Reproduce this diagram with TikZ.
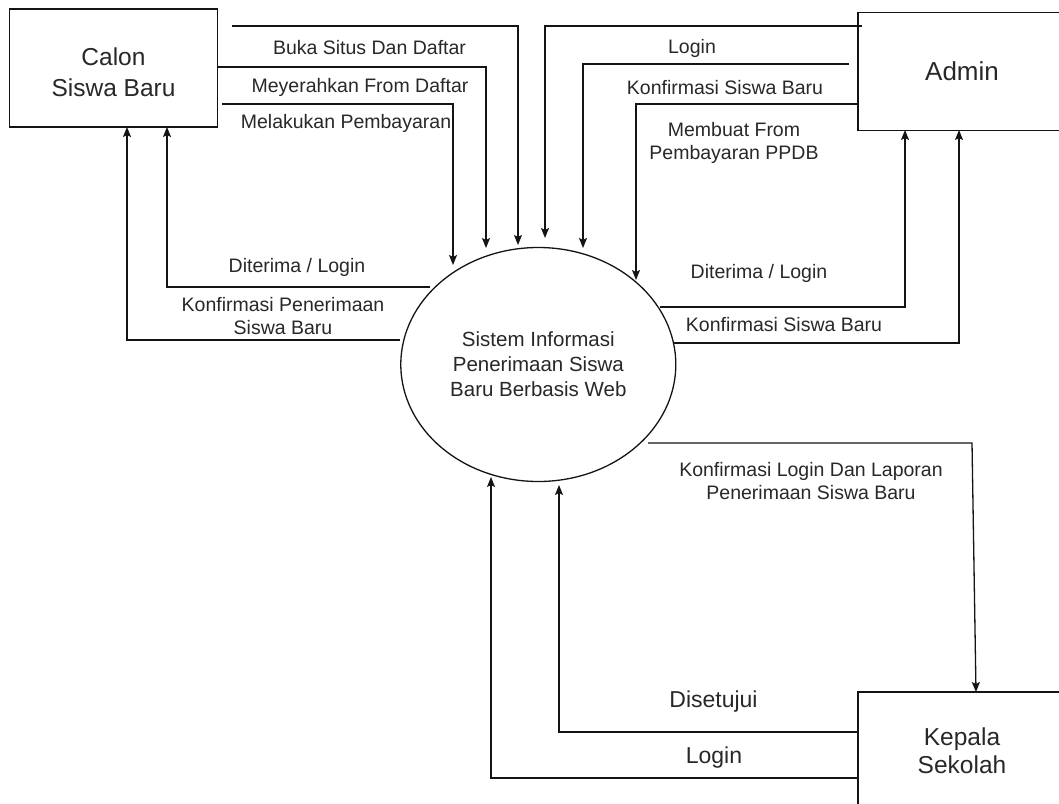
\documentclass[tikz,border=0pt]{standalone}
\usepackage{fontspec}
\setmainfont{Liberation Sans}
\usetikzlibrary{arrows.meta,shapes.geometric}
\definecolor{linec}{RGB}{20,20,20}
\definecolor{textc}{RGB}{40,40,40}
\newcommand{\lblfont}{\fontsize{19.5}{23}\selectfont}
\newcommand{\entfont}{\fontsize{24.5}{31}\selectfont}
\tikzset{
  ent/.style={draw=linec, line width=1.3pt, minimum width=208pt, minimum height=118pt,
              inner sep=0pt, text=textc, align=center, font=\entfont},
  proc/.style={draw=linec, ellipse, line width=1.3pt, minimum width=275pt, minimum height=234pt,
              inner sep=0pt, text=textc, align=center, font=\fontsize{20.5}{25}\selectfont},
  flow/.style={draw=linec, line width=1.3pt, -{Stealth[length=10pt,width=8pt,inset=2pt]}},
  lbl/.style={text=textc, font=\lblfont, align=center, inner sep=0pt},
  biglbl/.style={text=textc, font=\fontsize{23}{27}\selectfont, align=center, inner sep=0pt},
}
\begin{document}
\begin{tikzpicture}[x=1pt,y=-1pt]
\useasboundingbox (0,0) rectangle (1059,803);
\clip (0,0) rectangle (1059,803);
\fill[white] (0,0) rectangle (1059,803);

% nodes
\node[ent, text height=58pt] (calon) at (113.5,68) {Calon\\Siswa Baru};
\node[ent, font=\fontsize{26}{30}\selectfont] (admin) at (962,71.5) {Admin};
\node[ent, font=\fontsize{24.5}{28}\selectfont] (kepala) at (962,751) {Kepala\\Sekolah};
\node[proc] (sis) at (538.3,364.5) {Sistem Informasi\\Penerimaan Siswa\\Baru Berbasis Web};

% connector end points
\coordinate (c1s) at (232,26);  \coordinate (c1e) at (518,245);
\coordinate (c2s) at (218,67);  \coordinate (c2e) at (486,248);
\coordinate (c3s) at (222,104); \coordinate (c3e) at (453,265);
\coordinate (a1s) at (862,26);  \coordinate (a1e) at (545,238);
\coordinate (a2s) at (849,64);  \coordinate (a2e) at (583,248);
\coordinate (a3s) at (858,104); \coordinate (a3e) at (636,280);
\coordinate (l1s) at (430,287); \coordinate (l1e) at (167,127);
\coordinate (l2s) at (400,340); \coordinate (l2e) at (127,127);
\coordinate (r1s) at (660,307); \coordinate (r1e) at (905,130);
\coordinate (r2s) at (673,343); \coordinate (r2e) at (959,130);
\coordinate (b1s) at (648,443); \coordinate (b1m) at (972,443); \coordinate (b1e) at (976,692);
\coordinate (k1s) at (858,732); \coordinate (k1e) at (559,485);
\coordinate (k2s) at (858,778); \coordinate (k2e) at (491,477);

% Calon -> Sistem
\draw[flow] (c1s) -| (c1e);
\draw[flow] (c2s) -| (c2e);
\draw[flow] (c3s) -| (c3e);
% Admin -> Sistem
\draw[flow] (a1s) -| (a1e);
\draw[flow] (a2s) -| (a2e);
\draw[flow] (a3s) -| (a3e);
% Sistem -> Calon
\draw[flow] (l1s) -| (l1e);
\draw[flow] (l2s) -| (l2e);
% Sistem -> Admin
\draw[flow] (r1s) -| (r1e);
\draw[flow] (r2s) -| (r2e);
% Sistem -> Kepala
\draw[flow] (b1s) -- (b1m) -- (b1e);
% Kepala -> Sistem
\draw[flow] (k1s) -| (k1e);
\draw[flow] (k2s) -| (k2e);

% labels
\node[lbl] (t1) at (369.5,48) {Buka Situs Dan Daftar};
\node[lbl] (t2) at (360,87) {Meyerahkan From Daftar};
\node[lbl] (t3) at (346,123) {Melakukan Pembayaran};
\node[lbl] (t4) at (297,267) {Diterima / Login};
\node[lbl] (t5) at (283,316.5) {Konfirmasi Penerimaan\\Siswa Baru};
\node[lbl] (t6) at (692,48) {Login};
\node[lbl] (t7) at (725,88) {Konfirmasi Siswa Baru};
\node[lbl] (t8) at (734,143) {Membuat From\\Pembayaran PPDB};
\node[lbl] (t9) at (759,273) {Diterima / Login};
\node[lbl] (t10) at (784,325) {Konfirmasi Siswa Baru};
\node[lbl] (t11) at (811,481.5) {Konfirmasi Login Dan Laporan\\Penerimaan Siswa Baru};
\node[biglbl] (t12) at (713.5,702) {Disetujui};
\node[biglbl] (t13) at (714,758) {Login};
\end{tikzpicture}
\end{document}
